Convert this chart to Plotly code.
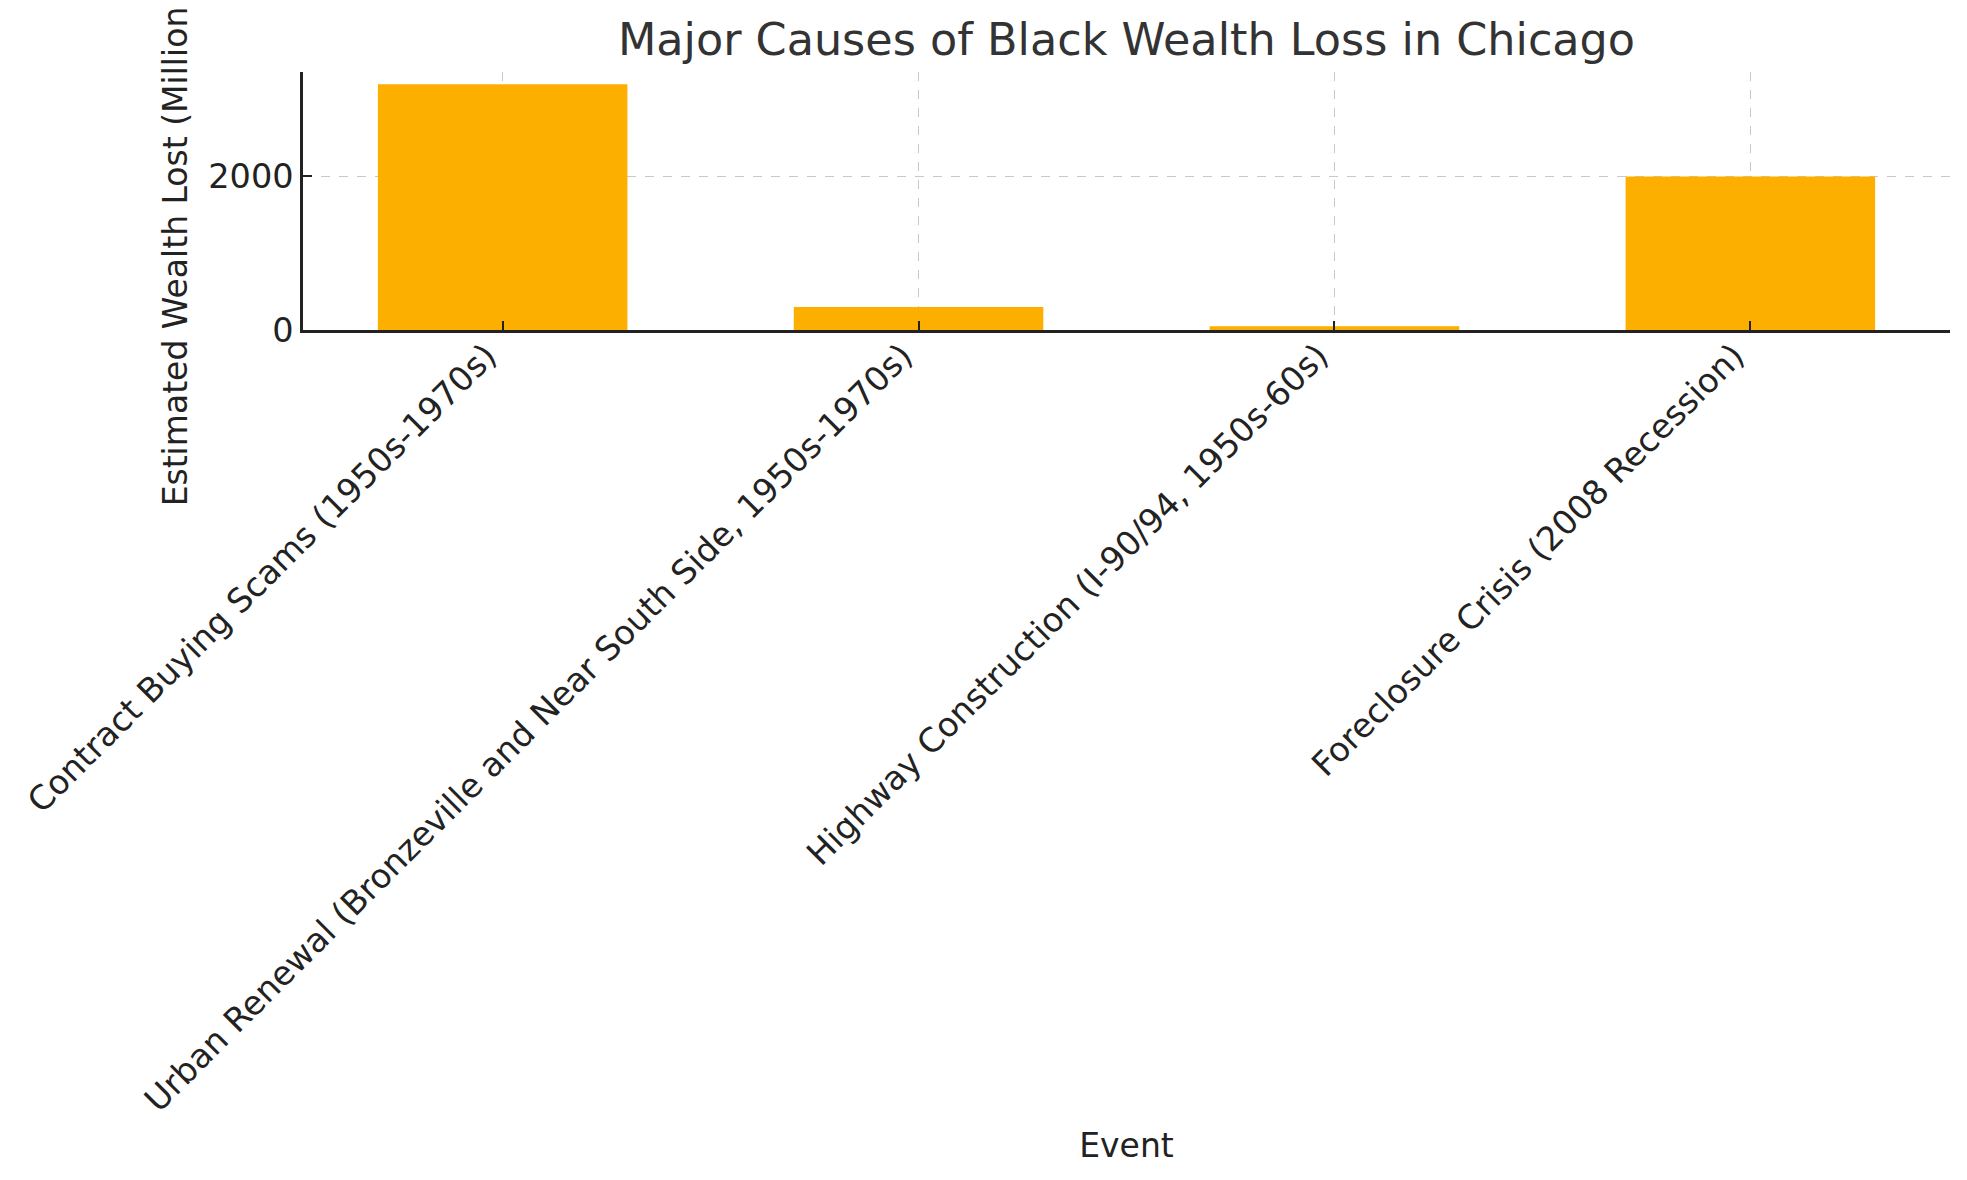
import plotly.graph_objects as go

# values (millions of USD)
events = [
    "Contract Buying Scams (1950s-1970s)",
    "Urban Renewal (Bronzeville and Near South Side, 1950s-1970s)",
    "Highway Construction (I-90/94, 1950s-60s)",
    "Foreclosure Crisis (2008 Recession)",
]
wealth_lost = [3200, 300, 50, 2000]

BAR_COLOR = "#FDAF00"
FONT = "DejaVu Sans"

fig = go.Figure(
    go.Bar(
        x=events,
        y=wealth_lost,
        width=0.6,
        marker=dict(color=BAR_COLOR, line=dict(width=0)),
    )
)

# the page body has an 8px margin, so the figure is 8px smaller than the window
fig.update_layout(
    width=1959,
    height=1172,
    margin=dict(l=291, r=17, t=64, b=850),
    paper_bgcolor="white",
    plot_bgcolor="white",
    font=dict(family=FONT, size=33.5, color="#222222"),
    showlegend=False,
    title=dict(
        text="Major Causes of Black Wealth Loss in Chicago",
        x=0.5,
        xref="paper",
        xanchor="center",
        y=0.9735,
        yanchor="middle",
        yref="container",
        font=dict(family=FONT, size=44.5, color="#333333"),
    ),
)

fig.update_xaxes(
    range=[-0.48, 3.48],
    tickangle=-45,
    ticks="inside",
    ticklen=9,
    tickwidth=2,
    tickcolor="#222222",
    ticklabelshift=-16,
    ticklabelstandoff=-10,
    showline=True,
    linecolor="#222222",
    linewidth=2.5,
    showgrid=True,
    gridcolor="#c8c8c8",
    griddash="dash",
    gridwidth=1.3,
    title=dict(text="Event", standoff=16, font=dict(size=33)),
)

fig.update_yaxes(
    range=[0, 3360],
    tickvals=[0, 2000],
    ticks="inside",
    ticklen=9,
    tickwidth=2,
    tickcolor="#222222",
    showline=True,
    linecolor="#222222",
    linewidth=2.5,
    showgrid=True,
    gridcolor="#c8c8c8",
    griddash="dash",
    gridwidth=1.3,
    zeroline=False,
    title=dict(text="Estimated Wealth Lost (Millions USD)", standoff=11, font=dict(size=33)),
)

fig.write_html("out.html")
